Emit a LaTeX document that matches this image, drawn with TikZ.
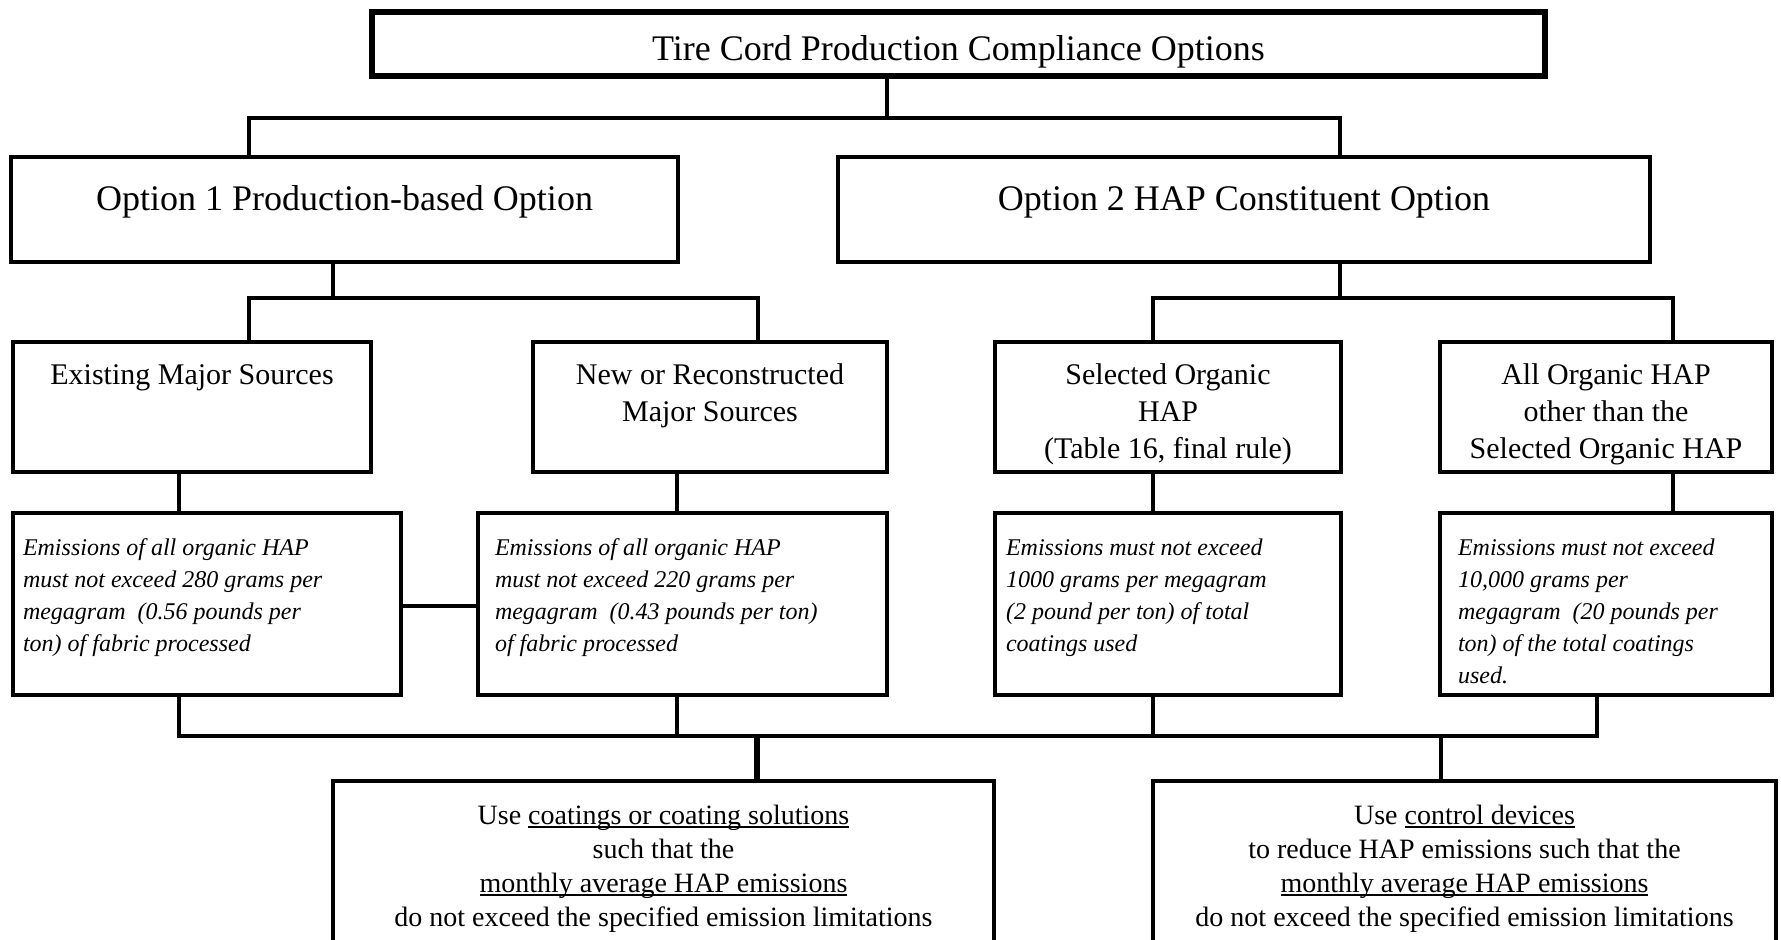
\documentclass[tikz,border=0pt]{standalone}
\usepackage{fontspec}
\setmainfont{Liberation Serif}
\newcommand\myul[1]{\leavevmode\setbox0=\hbox{#1}\rlap{\rule[-1.9pt]{\wd0}{0.7pt}}\box0}
% centred text block: width, height, first-baseline depth, font, text
\newcommand\ctext[5]{\parbox[c][#2][t]{#1}{\centering #4\rule{0pt}{#3}#5}}
% left text block: width, height, first-baseline depth, left pad, font, text
\newcommand\ltext[6]{\parbox[c][#2][t]{#1}{\raggedright\leftskip=#4\relax #5\rule{0pt}{#3}#6}}
\begin{document}
\begin{tikzpicture}[x=0.5pt,y=-0.5pt,
  box/.style={draw,line width=2pt,inner sep=0pt,outer sep=0pt,anchor=north west},
  conn/.style={line width=1.65pt},
  thickconn/.style={line width=2.8pt},
]
\useasboundingbox (0,0) rectangle (1781,939);
\clip (0,0) rectangle (1781,939);

% ---------- boxes ----------
\node[box,line width=2.6pt] (title) at (372,12)
  {\ctext{586.5pt}{32pt}{24pt}{\fontsize{18}{22}\selectfont}{Tire Cord Production Compliance Options}};

\node[box] (opt1) at (11,157)
  {\ctext{333.5pt}{52.5pt}{26.5pt}{\fontsize{18}{22}\selectfont}{Option 1 Production-based Option}};
\node[box] (opt2) at (838,157)
  {\ctext{406pt}{52.5pt}{26.5pt}{\fontsize{18}{22}\selectfont}{Option 2 HAP Constituent Option}};

\node[box] (ex) at (13,342)
  {\ctext{179pt}{65pt}{21pt}{\fontsize{15}{18.5}\selectfont}{Existing Major Sources}};
\node[box] (nw) at (533,342)
  {\ctext{177pt}{65pt}{21pt}{\fontsize{15}{18.5}\selectfont}{New or Reconstructed\\Major Sources}};
\node[box] (sel) at (995,342)
  {\ctext{173pt}{65pt}{21pt}{\fontsize{15}{18.5}\selectfont}{Selected Organic\\HAP\\(Table 16, final rule)}};
\node[box] (all) at (1440,342)
  {\ctext{166pt}{65pt}{21pt}{\fontsize{15}{18.5}\selectfont}{All Organic HAP\\other than the\\Selected Organic HAP}};

\node[box] (eA) at (13,513)
  {\ltext{194pt}{91pt}{21pt}{5pt}{\fontsize{12}{16}\selectfont\itshape}{Emissions of all organic HAP\\must not exceed 280 grams per\\megagram~ (0.56 pounds per\\ton) of fabric processed}};
\node[box] (eB) at (478,513)
  {\ltext{204.5pt}{91pt}{21pt}{8.5pt}{\fontsize{12}{16}\selectfont\itshape}{Emissions of all organic HAP\\must not exceed 220 grams per\\megagram~ (0.43 pounds per ton)\\of fabric processed}};
\node[box] (eC) at (995,513)
  {\ltext{173pt}{91pt}{21pt}{5.5pt}{\fontsize{12}{16}\selectfont\itshape}{Emissions must not exceed\\1000 grams per megagram\\(2 pound per ton) of total\\coatings used}};
\node[box] (eD) at (1440,513)
  {\ltext{166pt}{91pt}{21pt}{9pt}{\fontsize{12}{16}\selectfont\itshape}{Emissions must not exceed\\10,000 grams per\\megagram~ (20 pounds per\\ton) of the total coatings\\used.}};

\node[box] (bL) at (333,781)
  {\ctext{330.5pt}{120pt}{21.5pt}{\fontsize{14}{17}\selectfont}{Use \myul{coatings or coating solutions}\\such that the\\\myul{monthly average HAP emissions}\\do not exceed the specified emission limitations}};
\node[box] (bR) at (1153,781)
  {\ctext{311.5pt}{120pt}{21.5pt}{\fontsize{14}{17}\selectfont}{Use \myul{control devices}\\to reduce HAP emissions such that the\\\myul{monthly average HAP emissions}\\do not exceed the specified emission limitations}};

% ---------- junction points ----------
\coordinate (t0) at (887,118);
\coordinate (tL) at (249,118);
\coordinate (tR) at (1340,118);
\coordinate (a0) at (333,298);
\coordinate (aL) at (249,298);
\coordinate (aR) at (758,298);
\coordinate (c0) at (1340,298);
\coordinate (cL) at (1153,298);
\coordinate (cR) at (1673,298);
\coordinate (v1) at (179,736);
\coordinate (v2) at (677,736);
\coordinate (v3) at (1153,736);
\coordinate (v4) at (1597,736);
\coordinate (d1) at (757,736);
\coordinate (d2) at (1441,736);
\coordinate (lk) at (440,606);

% ---------- connectors ----------
\draw[conn] (title.south -| t0) -- (t0);
\draw[conn] (opt1.north -| tL) |- (tR) -- (opt2.north -| tR);

\draw[conn] (opt1.south -| a0) -- (a0);
\draw[conn] (ex.north -| aL) |- (aR) -- (nw.north -| aR);
\draw[conn] (opt2.south -| c0) -- (c0);
\draw[conn] (sel.north -| cL) |- (cR) -- (all.north -| cR);

\draw[conn] (ex.south -| v1) -- (eA.north -| v1);
\draw[conn] (nw.south -| v2) -- (eB.north -| v2);
\draw[conn] (sel.south -| v3) -- (eC.north -| v3);
\draw[conn] (all.south -| cR) -- (eD.north -| cR);

\draw[conn] (eA.east |- lk) -- (eB.west |- lk);

\draw[conn] (eA.south -| v1) |- (v4) -- (eD.south -| v4);
\draw[conn] (eB.south -| v2) -- (v2);
\draw[conn] (eC.south -| v3) -- (v3);

\draw[thickconn] (d1) -- (bL.north -| d1);
\draw[conn,line width=2pt] (d2) -- (bR.north -| d2);
\end{tikzpicture}
\end{document}
